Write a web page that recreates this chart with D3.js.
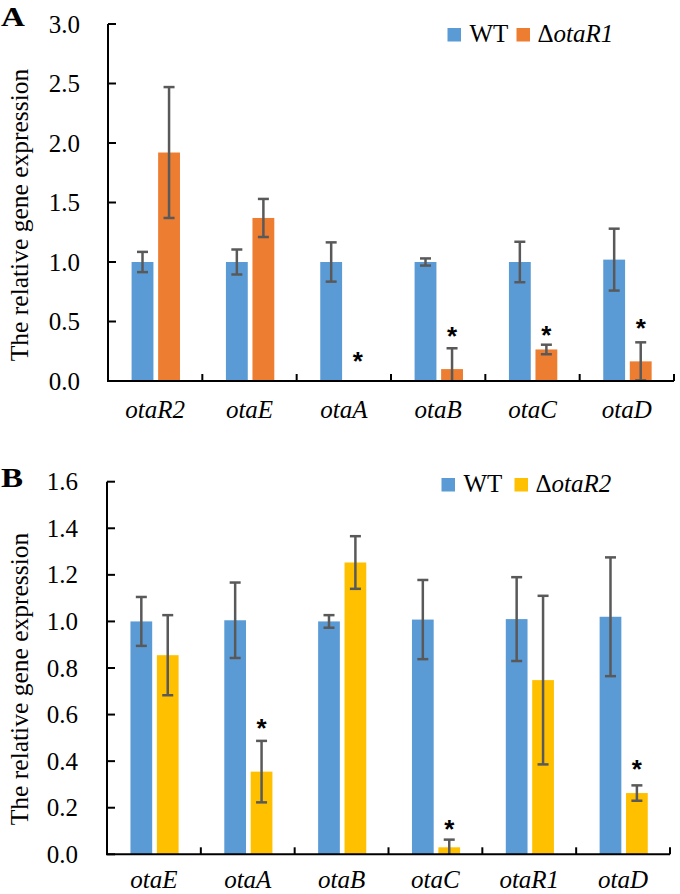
<!DOCTYPE html>
<html>
<head>
<meta charset="utf-8">
<script src="https://cdn.jsdelivr.net/npm/d3@7"></script>
<style>
  body { margin: 0; background: #fff; }
</style>
</head>
<body>
<svg id="chart" width="680" height="894"></svg>
<script>
// Panel A: WT vs otaR1 deletion
var catsA = ["otaR2", "otaE", "otaA", "otaB", "otaC", "otaD"];
var wtA = [1.0, 1.0, 1.0, 1.0, 1.0, 1.02];
var wtErrA = [0.085, 0.105, 0.165, 0.03, 0.17, 0.26];
var mutA = [1.92, 1.37, 0, 0.1, 0.265, 0.165];
var mutErrA = [0.55, 0.16, 0, 0.175, 0.04, 0.16];
var starA = [null, null, 0.22, 0.43, 0.44, 0.50];
var ticksA = [0, 0.5, 1.0, 1.5, 2.0, 2.5, 3.0];

// Panel B: WT vs otaR2 deletion
var catsB = ["otaE", "otaA", "otaB", "otaC", "otaR1", "otaD"];
var wtB = [1.0, 1.005, 1.0, 1.008, 1.01, 1.02];
var wtErrB = [0.105, 0.162, 0.027, 0.17, 0.18, 0.255];
var mutB = [0.855, 0.355, 1.253, 0.03, 0.748, 0.263];
var mutErrB = [0.172, 0.132, 0.113, 0.033, 0.362, 0.033];
var starB = [null, 0.568, null, 0.133, null, 0.39];
var ticksB = [0, 0.2, 0.4, 0.6, 0.8, 1.0, 1.2, 1.4, 1.6];

var SERIF = "'Liberation Serif', 'Times New Roman', serif";

var svg = d3.select("#chart")
    .style("font-family", SERIF);

function drawPanel(p) {
    var g = svg.append("g");

    var x = d3.scaleBand()
        .domain(p.cats)
        .range([p.left, p.right]);

    var y = d3.scaleLinear()
        .domain(p.domain)
        .range([p.bottom, p.top]);

    var bw = x.bandwidth();
    var x1 = d3.scaleBand()
        .domain(["wt", "mut"])
        .range([bw * 0.25, bw * 0.763])
        .paddingInner(0.177);

    var bars = p.cats.map(function (c, i) {
        return [
            { cat: c, key: "wt", v: p.wt[i], e: p.wtErr[i], color: "#5B9BD5" },
            { cat: c, key: "mut", v: p.mut[i], e: p.mutErr[i], color: p.mutColor }
        ];
    }).flat();

    // bars
    g.selectAll("rect.bar")
        .data(bars.filter(d => d.v > 0))
        .enter()
        .append("rect")
        .attr("class", "bar")
        .attr("x", d => x(d.cat) + x1(d.key))
        .attr("y", d => y(d.v))
        .attr("width", x1.bandwidth())
        .attr("height", d => y(0) - y(d.v))
        .attr("fill", d => d.color);

    // error bars
    var errs = g.selectAll("g.err")
        .data(bars.filter(d => d.e > 0))
        .enter()
        .append("g")
        .attr("class", "err")
        .attr("stroke", "#595959")
        .attr("stroke-width", 2.5);
    var cx = d => x(d.cat) + x1(d.key) + x1.bandwidth() / 2;
    errs.append("line")
        .attr("x1", cx).attr("x2", cx)
        .attr("y1", d => y(d.v + d.e))
        .attr("y2", d => y(Math.max(0, d.v - d.e)));
    errs.append("line")
        .attr("x1", d => cx(d) - 5.5).attr("x2", d => cx(d) + 5.5)
        .attr("y1", d => y(d.v + d.e)).attr("y2", d => y(d.v + d.e));
    errs.filter(d => d.v - d.e > 0).append("line")
        .attr("x1", d => cx(d) - 5.5).attr("x2", d => cx(d) + 5.5)
        .attr("y1", d => y(d.v - d.e)).attr("y2", d => y(d.v - d.e));

    // significance stars
    g.selectAll("text.star")
        .data(p.cats.map((c, i) => ({ cat: c, s: p.star[i] })).filter(d => d.s !== null))
        .enter()
        .append("text")
        .attr("class", "star")
        .attr("x", d => x(d.cat) + x1("mut") + x1.bandwidth() / 2)
        .attr("y", d => y(d.s) + 15)
        .attr("text-anchor", "middle")
        .style("font-family", "'Liberation Sans', Arial, sans-serif")
        .style("font-size", "26px")
        .style("font-weight", "bold")
        .text("*");

    // y axis
    var yAxis = g.append("g")
        .attr("transform", "translate(" + p.left + ",0)");
    yAxis.append("line")
        .attr("x1", 0).attr("x2", 0)
        .attr("y1", y(p.domain[1])).attr("y2", y(0))
        .attr("stroke", "#000").attr("stroke-width", 2);
    yAxis.selectAll("line.ytick")
        .data(p.ticks)
        .enter()
        .append("line")
        .attr("class", "ytick")
        .attr("x1", 0).attr("x2", 8)
        .attr("y1", d => y(d)).attr("y2", d => y(d))
        .attr("stroke", "#000").attr("stroke-width", 2);
    yAxis.selectAll("text")
        .data(p.ticks)
        .enter()
        .append("text")
        .attr("class", "tick_label")
        .attr("x", p.labelX - p.left)
        .attr("y", d => y(d) + 8.5)
        .attr("text-anchor", "end")
        .style("font-size", "25px")
        .text(d => d.toFixed(1));

    // x axis
    g.append("line")
        .attr("x1", p.left - 1).attr("x2", p.right)
        .attr("y1", y(0)).attr("y2", y(0))
        .attr("stroke", "#000").attr("stroke-width", 2);
    g.selectAll("line.xtick")
        .data(p.cats)
        .enter()
        .append("line")
        .attr("class", "xtick")
        .attr("x1", d => x(d) + bw).attr("x2", d => x(d) + bw)
        .attr("y1", y(0)).attr("y2", y(0) - 7)
        .attr("stroke", "#000").attr("stroke-width", 2);
    g.selectAll("text.cat_label")
        .data(p.cats)
        .enter()
        .append("text")
        .attr("class", "cat_label")
        .attr("x", d => x(d) + bw * 0.5)
        .attr("y", y(0) + p.catDy)
        .attr("text-anchor", "middle")
        .style("font-size", "25px")
        .style("font-style", "italic")
        .text(d => d);

    // axis title
    g.append("text")
        .attr("class", "axis_title")
        .attr("transform", "translate(28," + p.titleY + ") rotate(-90)")
        .attr("text-anchor", "middle")
        .style("font-size", "25.5px")
        .text("The relative gene expression");

    // panel letter (slightly wide, like the original)
    g.append("text")
        .attr("class", "panel_label")
        .attr("transform", "translate(1," + p.letterY + ") scale(1.18,1)")
        .style("font-size", "28px")
        .style("font-weight", "bold")
        .text(p.letter);

    // legend
    var lg = g.append("g")
        .attr("transform", "translate(" + p.legX + "," + p.legY + ")")
        .style("font-size", "25px");
    lg.append("rect").attr("x", 0).attr("y", -14).attr("width", 13.5).attr("height", 13.5).attr("fill", "#5B9BD5");
    lg.append("text").attr("x", 22).attr("y", 0).text("WT");
    lg.append("rect").attr("x", p.legGap).attr("y", -14).attr("width", 13.5).attr("height", 13.5).attr("fill", p.mutColor);
    var t = lg.append("text").attr("x", p.legGap + 21).attr("y", 0);
    t.append("tspan").text("\u0394");
    t.append("tspan").style("font-style", "italic").text(p.mutName);
}

drawPanel({
    cats: catsA, wt: wtA, wtErr: wtErrA, mut: mutA, mutErr: mutErrA, star: starA,
    ticks: ticksA, domain: [0, 3], mutColor: "#ED7D31", mutName: "otaR1",
    left: 108, right: 674, top: 24, bottom: 381, labelX: 80, catDy: 37,
    titleY: 215, letter: "A", letterY: 26, legX: 447.5, legY: 42, legGap: 69
});

drawPanel({
    cats: catsB, wt: wtB, wtErr: wtErrB, mut: mutB, mutErr: mutErrB, star: starB,
    ticks: ticksB, domain: [0, 1.6], mutColor: "#FFC000", mutName: "otaR2",
    left: 107, right: 670, top: 481.7, bottom: 854.3, labelX: 78, catDy: 34,
    titleY: 679, letter: "B", letterY: 487, legX: 441.5, legY: 492, legGap: 73
});
</script>
</body>
</html>
